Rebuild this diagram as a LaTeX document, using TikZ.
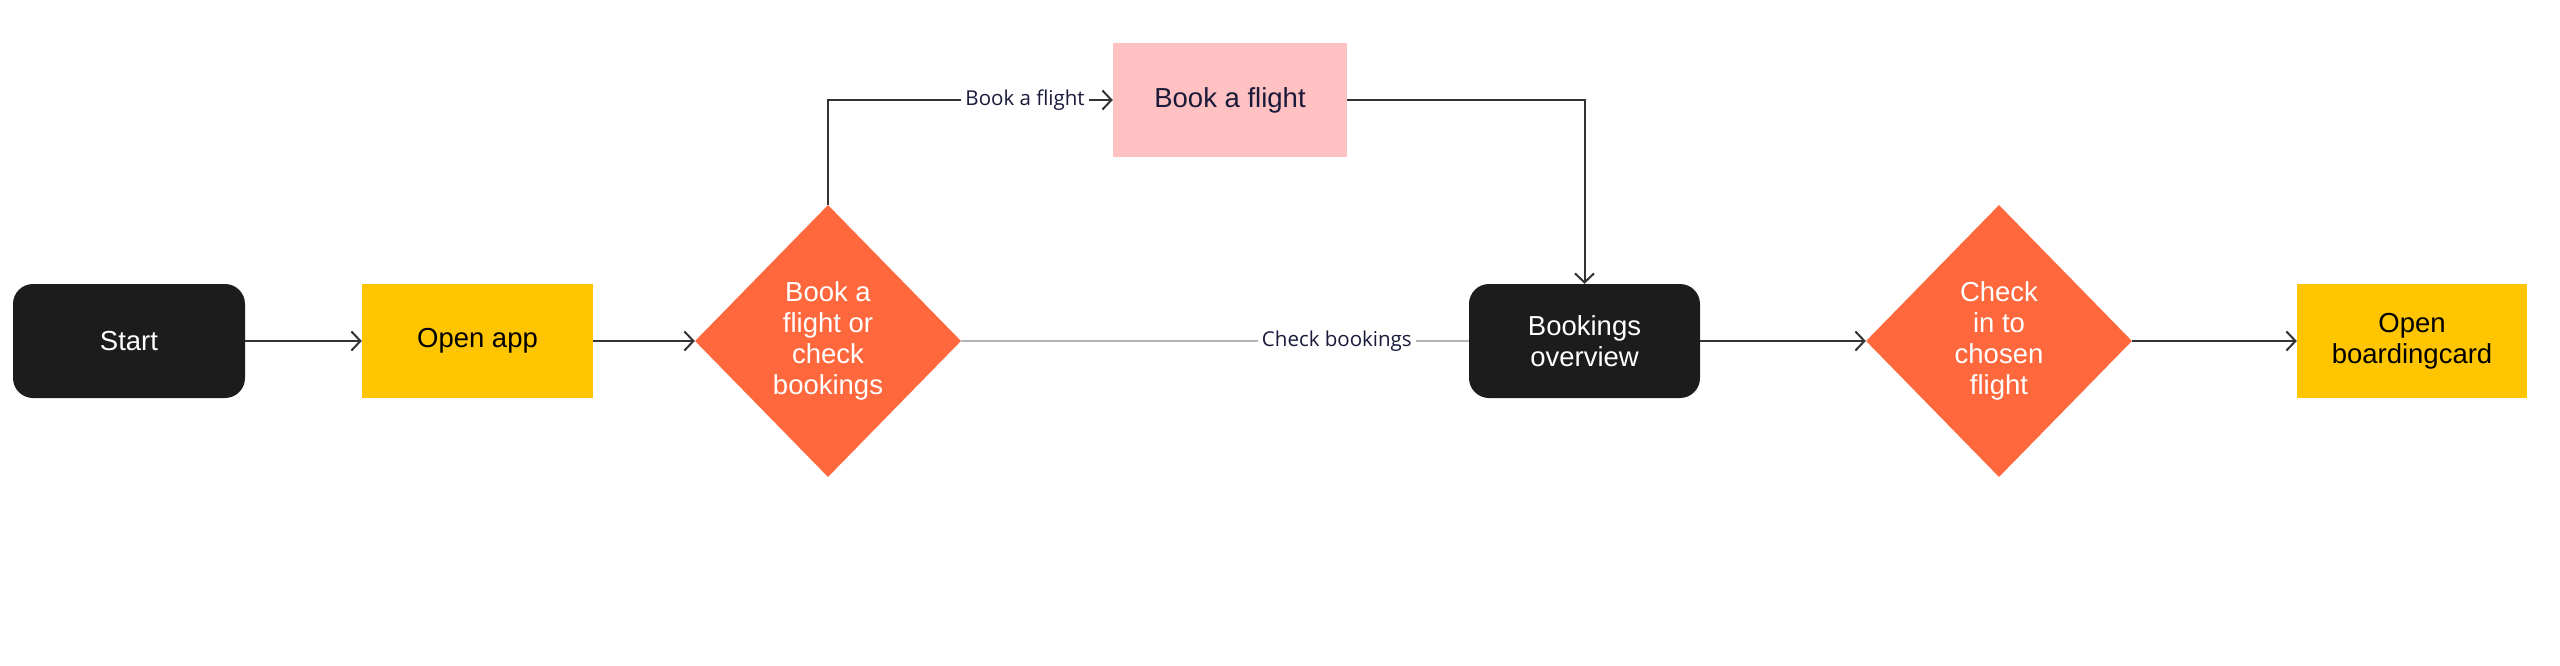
\documentclass[tikz,border=0pt]{standalone}
\usepackage{fontspec}
\setmainfont{Liberation Sans}
\newfontfamily\lblfont{Open Sans}
\usetikzlibrary{shapes.geometric,arrows.meta}
\definecolor{boxblack}{HTML}{1C1C1C}
\definecolor{boxyellow}{HTML}{FFC500}
\definecolor{boxorange}{HTML}{FF683D}
\definecolor{boxpink}{HTML}{FFC1C1}
\definecolor{edgegray}{HTML}{333333}
\definecolor{lightline}{HTML}{B4B4B4}
\definecolor{navy}{HTML}{1A1A3A}
\tikzset{
  mainfont/.style={font=\fontsize{27.5}{31}\selectfont},
  termbox/.style={mainfont, draw=none, fill=boxblack, text=white, rounded corners=20pt,
     minimum width=232pt, minimum height=114pt, inner sep=0pt, align=center},
  actbox/.style={mainfont, draw=none, fill=boxyellow, text=black,
     minimum width=231pt, minimum height=114pt, inner sep=0pt, align=center},
  pinkbox/.style={mainfont, draw=none, fill=boxpink, text=navy,
     minimum width=234pt, minimum height=114pt, inner sep=0pt, align=center},
  decshape/.style={diamond, draw=none, fill=boxorange, minimum width=266pt,
     minimum height=272pt, inner sep=0pt},
  dectext/.style={mainfont, text=white, align=center, inner sep=0pt},
  flow/.style={draw=edgegray, line width=2pt, -{Straight Barb[length=9pt,width=19pt,line width=2pt]}},
  plainflow/.style={draw=edgegray, line width=2pt},
  softflow/.style={draw=lightline, line width=1.5pt},
  lbl/.style={font=\lblfont\fontsize{20.5}{24}\selectfont, text=navy, fill=white, inner sep=4pt}
}
\begin{document}
\begin{tikzpicture}[x=1pt,y=-1pt]
\useasboundingbox[fill=white] (0,0) rectangle (2560,665);
\node[termbox] (start) at (129,341) {Start};
\node[actbox] (open) at (477.5,341) {Open app};
\node[decshape] (d1) at (828,341) {};
\node[dectext] (d1t) at (d1.center) {Book a\\flight or\\check\\bookings};
\node[pinkbox] (book) at (1230,100) {Book a flight};
\node[termbox, minimum width=231pt] (over) at (1584.5,341) {Bookings\\overview};
\node[decshape] (d2) at (1999,341) {};
\node[dectext] (d2t) at (d2.center) {Check\\in to\\chosen\\flight};
\node[actbox, minimum width=230pt] (board) at (2412,341) {Open\\boardingcard};

\draw[flow] (start.east) -- (open.west);
\draw[flow] (open.east) -- (d1.west);
\draw[flow] (d1.north) |- node[lbl, pos=0.846] (lblbook) {Book a flight} (book.west);
\draw[flow] (book.east) -| (over.north);
\draw[softflow] (d1.east) -- node[lbl, pos=0.74] (lblcheck) {Check bookings} (over.west);
\draw[flow] (over.east) -- (d2.west);
\draw[flow] (d2.east) -- (board.west);
\end{tikzpicture}
\end{document}
